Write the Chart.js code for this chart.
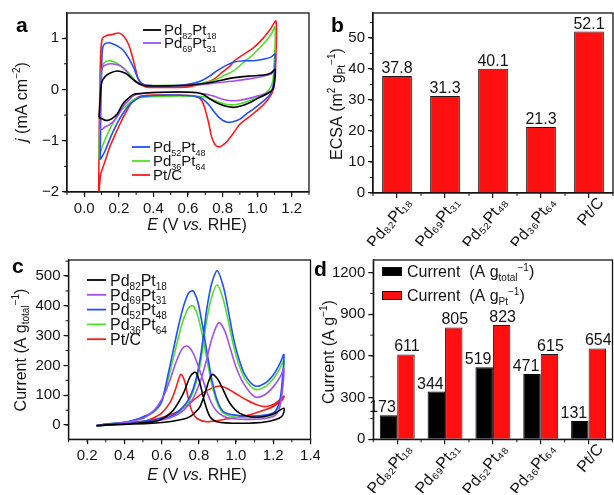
<!DOCTYPE html>
<html><head><meta charset="utf-8">
<script src="https://cdn.jsdelivr.net/npm/chart.js@4.4.1/dist/chart.umd.min.js"></script>
<style>
html,body{margin:0;padding:0;background:#fff;}
body{width:614px;height:495px;position:relative;overflow:hidden;}
canvas{position:absolute;}
</style></head>
<body>
<canvas id="ca" width="320" height="248" style="left:0;top:0"></canvas>
<canvas id="cb" width="314" height="248" style="left:300px;top:0"></canvas>
<canvas id="cc" width="320" height="247" style="left:0;top:248px"></canvas>
<canvas id="cd" width="314" height="247" style="left:300px;top:248px"></canvas>
<script>
// ================= DATA =================
const cvNames = ['Pd_{82}Pt_{18}', 'Pd_{69}Pt_{31}', 'Pd_{52}Pt_{48}', 'Pd_{36}Pt_{64}', 'Pt/C'];

// panel a: cyclic voltammograms, E (V vs RHE) and j (mA cm^-2)
const aPd82E = [0.085,0.09,0.095,0.102,0.12,0.15,0.19,0.22,0.246,0.28,0.323,0.36,0.5,0.6,0.7,0.766,0.85,0.95,1.04,1.08,1.104,1.1,1.09,1.06,1.0,0.95,0.9,0.863,0.82,0.766,0.72,0.689,0.65,0.55,0.4,0.33,0.285,0.246,0.22,0.19,0.16,0.14,0.12,0.102,0.085];
const aPd82J = [-0.55,-0.3,0.0,0.15,0.25,0.32,0.36,0.34,0.3,0.2,0.1,0.07,0.07,0.08,0.12,0.16,0.22,0.26,0.28,0.32,0.39,0.15,0.0,-0.08,-0.18,-0.27,-0.33,-0.35,-0.33,-0.26,-0.17,-0.1,-0.06,-0.05,-0.06,-0.08,-0.1,-0.2,-0.3,-0.48,-0.57,-0.6,-0.6,-0.57,-0.55];
const aPd69E = [0.088,0.092,0.097,0.104,0.12,0.15,0.18,0.208,0.24,0.266,0.3,0.333,0.4,0.5,0.6,0.7,0.766,0.85,0.945,1.04,1.08,1.104,1.1,1.09,1.06,1.0,0.96,0.9,0.85,0.8,0.747,0.7,0.66,0.55,0.4,0.33,0.285,0.25,0.227,0.2,0.17,0.14,0.12,0.104,0.092,0.088];
const aPd69J = [-0.76,-0.3,0.2,0.42,0.47,0.5,0.49,0.46,0.37,0.26,0.14,0.09,0.07,0.07,0.08,0.1,0.13,0.16,0.2,0.26,0.3,0.36,0.15,0.0,-0.07,-0.13,-0.17,-0.21,-0.22,-0.19,-0.13,-0.09,-0.07,-0.05,-0.06,-0.08,-0.12,-0.24,-0.32,-0.48,-0.62,-0.7,-0.73,-0.78,-0.77,-0.76];
const aPd52E = [0.092,0.095,0.1,0.105,0.115,0.14,0.17,0.2,0.227,0.255,0.285,0.31,0.333,0.36,0.4,0.5,0.6,0.67,0.72,0.766,0.81,0.863,0.92,0.978,1.036,1.08,1.104,1.1,1.09,1.07,1.036,0.98,0.94,0.9,0.86,0.83,0.8,0.775,0.747,0.72,0.69,0.66,0.6,0.5,0.4,0.33,0.29,0.266,0.227,0.2,0.17,0.15,0.12,0.1,0.092];
const aPd52J = [-1.37,-0.5,0.4,0.78,0.88,0.91,0.88,0.83,0.76,0.62,0.43,0.22,0.12,0.08,0.07,0.07,0.1,0.16,0.25,0.36,0.45,0.53,0.56,0.56,0.59,0.63,0.69,0.3,0.03,-0.12,-0.23,-0.38,-0.47,-0.58,-0.63,-0.64,-0.6,-0.53,-0.42,-0.3,-0.2,-0.15,-0.12,-0.11,-0.12,-0.14,-0.22,-0.28,-0.45,-0.6,-0.8,-0.95,-1.2,-1.33,-1.37];
const aPd36E = [0.085,0.09,0.095,0.102,0.115,0.14,0.17,0.208,0.24,0.266,0.295,0.323,0.36,0.5,0.6,0.7,0.766,0.82,0.863,0.92,0.96,1.0,1.055,1.085,1.104,1.1,1.09,1.07,1.03,0.998,0.94,0.9,0.863,0.82,0.766,0.72,0.68,0.6,0.5,0.4,0.32,0.285,0.25,0.208,0.18,0.15,0.12,0.1,0.09,0.085];
const aPd36J = [-1.35,-0.5,0.2,0.43,0.52,0.56,0.54,0.47,0.38,0.29,0.17,0.1,0.08,0.08,0.09,0.13,0.2,0.29,0.36,0.52,0.63,0.76,0.96,1.1,1.22,0.6,0.15,0.0,-0.12,-0.16,-0.24,-0.28,-0.3,-0.29,-0.23,-0.17,-0.14,-0.13,-0.13,-0.14,-0.16,-0.2,-0.3,-0.43,-0.58,-0.76,-0.98,-1.15,-1.3,-1.35];
const aPtCE = [0.083,0.086,0.09,0.095,0.105,0.13,0.16,0.198,0.227,0.256,0.275,0.295,0.314,0.333,0.362,0.4,0.5,0.6,0.65,0.7,0.75,0.8,0.843,0.87,0.92,0.978,1.03,1.075,1.109,1.108,1.1,1.085,1.055,1.017,0.978,0.94,0.9,0.863,0.824,0.795,0.776,0.757,0.737,0.72,0.7,0.68,0.65,0.6,0.5,0.4,0.33,0.29,0.266,0.24,0.21,0.18,0.15,0.13,0.11,0.095,0.085,0.083];
const aPtCJ = [-2.1,-1.0,0.0,0.7,1.0,1.05,1.07,1.1,1.04,0.88,0.68,0.42,0.19,0.085,0.045,0.04,0.04,0.05,0.08,0.13,0.2,0.34,0.455,0.56,0.68,0.81,0.98,1.17,1.33,0.6,0.1,-0.08,-0.23,-0.36,-0.47,-0.57,-0.68,-0.85,-1.02,-1.1,-1.12,-1.08,-0.93,-0.66,-0.4,-0.22,-0.14,-0.12,-0.11,-0.11,-0.13,-0.2,-0.3,-0.45,-0.65,-0.87,-1.1,-1.3,-1.5,-1.65,-2.0,-2.1];

// panel b: ECSA (m2 gPt-1)
const barCats = ['Pd₈₂Pt₁₈', 'Pd₆₉Pt₃₁', 'Pd₅₂Pt₄₈', 'Pd₃₆Pt₆₄', 'Pt/C'];
const ecsa = [37.8, 31.3, 40.1, 21.3, 52.1];

// panel c: ethanol oxidation CVs, E (V vs RHE) and current (A g_total^-1)
const cPd82E = [0.25,0.4,0.55,0.65,0.72,0.753,0.78,0.806,0.833,0.855,0.874,0.9,0.923,0.967,1.021,1.11,1.2,1.257,1.245,1.164,1.021,0.896,0.86,0.833,0.806,0.788,0.776,0.753,0.717,0.663,0.591,0.5,0.4,0.3,0.25];
const cPd82I = [-2,2,6,12,20,28,42,61,106,150,170,155,129,73,39,26,37,56,28,11,6,11,28,73,140,173,177,162,106,50,17,8,3,1,-2];
const cPd69E = [0.25,0.3,0.45,0.55,0.65,0.72,0.77,0.81,0.84,0.87,0.908,0.94,0.97,1.0,1.04,1.1,1.15,1.2,1.24,1.257,1.25,1.235,1.21,1.16,1.08,1.0,0.95,0.91,0.88,0.85,0.82,0.79,0.76,0.735,0.71,0.68,0.65,0.62,0.58,0.54,0.5,0.4,0.3,0.25];
const cPd69I = [-2,1,6,12,25,50,90,150,215,290,344,315,255,195,140,95,100,128,165,190,120,60,32,22,19,20,25,38,60,100,155,210,252,265,255,215,160,110,65,38,22,8,2,-2];
const cPd52E = [0.25,0.35,0.45,0.52,0.58,0.645,0.699,0.744,0.779,0.806,0.824,0.842,0.869,0.899,0.932,0.958,0.985,1.012,1.048,1.102,1.155,1.2,1.236,1.257,1.25,1.236,1.209,1.164,1.075,0.985,0.932,0.905,0.878,0.851,0.824,0.797,0.774,0.761,0.744,0.717,0.69,0.663,0.636,0.6,0.556,0.502,0.45,0.4,0.3,0.25];
const cPd52I = [-3,2,8,14,20,28,50,84,140,218,296,386,475,518,464,386,296,229,168,131,140,168,207,237,162,84,45,34,30,34,45,73,129,218,319,408,447,450,442,397,330,252,173,80,45,28,16,9,3,-3];
const cPd36E = [0.25,0.35,0.45,0.52,0.58,0.645,0.699,0.744,0.779,0.806,0.824,0.842,0.869,0.899,0.932,0.958,0.985,1.012,1.048,1.102,1.155,1.2,1.236,1.257,1.25,1.236,1.209,1.164,1.075,0.985,0.932,0.905,0.878,0.851,0.824,0.797,0.774,0.761,0.744,0.717,0.69,0.663,0.636,0.6,0.556,0.502,0.45,0.4,0.3,0.25];
const cPd36I = [-3,2,8,14,19,26,46,77,128,198,268,350,430,470,420,350,270,208,155,120,128,155,190,218,140,75,40,28,25,28,40,65,115,195,285,362,397,400,393,353,293,224,154,75,42,25,16,9,3,-3];
const cPtCE = [0.25,0.4,0.5,0.6,0.65,0.7,0.75,0.8,0.85,0.914,0.96,1.0,1.057,1.12,1.164,1.21,1.257,1.25,1.2,1.128,1.05,0.95,0.842,0.79,0.77,0.755,0.74,0.725,0.712,0.704,0.695,0.672,0.645,0.6,0.55,0.5,0.4,0.3,0.25];
const cPtCI = [-2,4,10,25,35,50,72,98,118,131,120,105,84,66,62,72,97,85,62,45,30,20,11,22,38,60,100,145,165,170,160,115,75,40,22,12,5,2,-2];

// panel d: mass activity
const massLabels = ['Current  (A g_{total}^{−1})', 'Current  (A g_{Pt}^{−1})'];
const massTotal = [173, 344, 519, 471, 131];
const massPt = [611, 805, 823, 615, 654];

// tick labels
const aXTicks = [0.0, 0.2, 0.4, 0.6, 0.8, 1.0, 1.2];
const aYTicks = [-2, -1, 0, 1];
const bYTicks = [0, 10, 20, 30, 40, 50];
const cXTicks = [0.2, 0.4, 0.6, 0.8, 1.0, 1.2, 1.4];
const cYTicks = [0, 100, 200, 300, 400, 500];
const dYTicks = [0, 300, 600, 900, 1200];

// ================= STYLE / HELPERS =================
const lineColors = ['#000000', '#a14ff0', '#1f4fff', '#50e026', '#ff1a1a'];
const RED = '#ff1010';
const FONT = "'Liberation Sans', Arial, Helvetica, sans-serif";
const INK = '#141414';
Chart.defaults.font.family = FONT;
Chart.defaults.font.size = 15;
Chart.defaults.color = INK;

function parseRich(s) {
  const segs = []; let i = 0, italic = false, buf = '';
  const push = () => { if (buf) segs.push({ t: buf, mode: 0, italic }); buf = ''; };
  while (i < s.length) {
    const c = s[i];
    if ((c === '_' || c === '^') && s[i + 1] === '{') {
      push();
      const j = s.indexOf('}', i);
      segs.push({ t: s.slice(i + 2, j), mode: c === '_' ? -1 : 1, italic });
      i = j + 1; continue;
    }
    if (c === '*') { push(); italic = !italic; i++; continue; }
    buf += c; i++;
  }
  push();
  return segs;
}
function drawRich(ctx, s, x, y, size, align, color, weight) {
  const segs = parseRich(s);
  const f = sg => `${sg.italic ? 'italic ' : ''}${weight || 'normal'} ${sg.mode ? Math.round(size * 0.62) : size}px ${FONT}`;
  let w = 0;
  segs.forEach(sg => { ctx.font = f(sg); sg.w = ctx.measureText(sg.t).width; w += sg.w; });
  let cx = align === 'center' ? x - w / 2 : align === 'right' ? x - w : x;
  ctx.save();
  ctx.fillStyle = color || INK; ctx.textAlign = 'left'; ctx.textBaseline = 'alphabetic';
  segs.forEach(sg => {
    ctx.font = f(sg);
    const dy = sg.mode === -1 ? size * 0.24 : sg.mode === 1 ? -size * 0.4 : 0;
    ctx.fillText(sg.t, cx, y + dy); cx += sg.w;
  });
  ctx.restore();
}

const decor = {
  id: 'decor',
  afterDraw(chart, args, o) {
    if (!o || !o.on) return;
    const ctx = chart.ctx, ca = chart.chartArea;
    ctx.save();
    ctx.strokeStyle = INK; ctx.lineWidth = 1.3;
    ctx.strokeRect(ca.left, ca.top, ca.right - ca.left, ca.bottom - ca.top);
    ctx.lineWidth = 1;
    const xs = chart.scales.x, ys = chart.scales.y;
    ctx.beginPath();
    if (o.minorX) {
      if (xs.type === 'category') {
        const n = chart.data.labels.length;
        for (let k = 0; k <= n; k++) { const p = xs.getPixelForValue(k - 0.5); ctx.moveTo(p, ca.bottom); ctx.lineTo(p, ca.bottom + 3); }
      } else {
        for (let v = Math.ceil(xs.min / o.minorX - 1e-6) * o.minorX; v <= xs.max + 1e-9; v += o.minorX) {
          const p = xs.getPixelForValue(v); ctx.moveTo(p, ca.bottom); ctx.lineTo(p, ca.bottom + 3);
        }
      }
    }
    if (o.minorY) {
      for (let v = Math.ceil(ys.min / o.minorY - 1e-6) * o.minorY; v <= ys.max + 1e-9; v += o.minorY) {
        const p = ys.getPixelForValue(v); ctx.moveTo(ca.left, p); ctx.lineTo(ca.left - 3, p);
      }
    }
    ctx.stroke();
    (o.texts || []).forEach(t => {
      if (t.rot) {
        ctx.save(); ctx.translate(t.x, t.y); ctx.rotate(-Math.PI / 2);
        drawRich(ctx, t.s, 0, t.size * 0.35, t.size, 'center', t.color, t.weight);
        ctx.restore();
      } else drawRich(ctx, t.s, t.x, t.y, t.size, t.align || 'left', t.color, t.weight);
    });
    (o.legends || []).forEach(g => {
      g.idx.forEach((di, r) => {
        const ds = chart.data.datasets[di];
        const y = g.y + r * g.dy;
        if (g.kind === 'box') {
          ctx.fillStyle = ds.backgroundColor; ctx.fillRect(g.x, y - g.bh / 2, g.w, g.bh);
          ctx.strokeStyle = '#111'; ctx.lineWidth = 1; ctx.strokeRect(g.x + 0.5, y - g.bh / 2 + 0.5, g.w - 1, g.bh - 1);
        } else {
          ctx.strokeStyle = ds.borderColor; ctx.lineWidth = 1.8;
          ctx.beginPath(); ctx.moveTo(g.x, y); ctx.lineTo(g.x + g.w, y); ctx.stroke();
        }
        drawRich(ctx, ds.label, g.x + g.w + g.gap, y + g.size * 0.36, g.size, 'left');
      });
    });
    ctx.restore();
  }
};
const barValues = {
  id: 'barValues',
  afterDatasetsDraw(chart, args, o) {
    if (!o || !o.on) return;
    const ctx = chart.ctx;
    ctx.save();
    ctx.font = `${o.size}px ${FONT}`; ctx.fillStyle = INK; ctx.textAlign = 'center'; ctx.textBaseline = 'alphabetic';
    chart.data.datasets.forEach((ds, i) => {
      chart.getDatasetMeta(i).data.forEach((el, k) => {
        ctx.fillText(String(ds.data[k]), el.x + (o.dx ? o.dx[i] : 0), el.y - o.gap);
      });
    });
    ctx.restore();
  }
};
Chart.register(decor, barValues);

function fixFit(size, vertical) {
  return s => {
    if (vertical) s.width = size; else s.height = size;
    s.paddingLeft = s.paddingRight = s.paddingTop = s.paddingBottom = 0;
  };
}
const gridOpts = { display: true, drawOnChartArea: false, drawTicks: true, tickLength: 5, color: INK, lineWidth: 1.2 };
const borderOpts = { display: true, color: INK, width: 1.3 };
const fmtNum = d => v => (d >= 0 ? Number(v).toFixed(d) : String(v)).replace('-', '−');

function linAxis(pos, min, max, ticks, fmt, fit) {
  return {
    type: 'linear', position: pos, min, max,
    afterBuildTicks: s => { s.ticks = ticks.map(v => ({ value: v })); },
    afterFit: fixFit(fit, pos === 'left'),
    grid: gridOpts, border: borderOpts,
    ticks: { font: { size: 15 }, color: INK, padding: 3, autoSkip: false, maxRotation: 0, minRotation: 0, callback: fmt }
  };
}
function catAxis(fit) {
  return {
    type: 'category', offset: true,
    afterFit: fixFit(fit, false),
    grid: Object.assign({}, gridOpts, { offset: false }), border: borderOpts,
    ticks: { font: { size: 16 }, color: INK, padding: -4, autoSkip: false, maxRotation: 50, minRotation: 50, labelOffset: 12 }
  };
}
function area(W, H, l, t, r, b) { return { padding: { left: 0, top: t, right: W - r, bottom: 2 }, yw: l, xh: H - b - 2 }; }
const base = { responsive: false, animation: false, events: [], devicePixelRatio: 1 };

function cvDatasets(Es, Ys) {
  return cvNames.map((n, i) => ({
    label: n, data: Es[i].map((e, k) => ({ x: e, y: Ys[i][k] })),
    showLine: true, borderColor: lineColors[i], backgroundColor: lineColors[i],
    borderWidth: 1.6, pointRadius: 0, tension: 0.3, fill: false
  }));
}

// ---------- panel a ----------
(() => {
  const L = area(320, 248, 67, 13, 309, 192);
  new Chart(document.getElementById('ca'), {
    type: 'scatter',
    data: { datasets: cvDatasets([aPd82E, aPd69E, aPd52E, aPd36E, aPtCE], [aPd82J, aPd69J, aPd52J, aPd36J, aPtCJ]) },
    options: Object.assign({}, base, {
      layout: { padding: L.padding },
      scales: {
        x: linAxis('bottom', -0.1, 1.3, aXTicks, fmtNum(1), L.xh),
        y: linAxis('left', -2, 1.49, aYTicks, fmtNum(-1), L.yw)
      },
      plugins: {
        legend: { display: false }, tooltip: { enabled: false },
        decor: {
          on: true, minorX: 0.1, minorY: 0.5,
          texts: [
            { s: 'a', x: 16, y: 32, size: 21, weight: 'bold', color: '#000' },
            { s: '*j* (mA cm^{−2})', x: 21, y: 102, size: 16, rot: true },
            { s: '*E* (V *vs.* RHE)', x: 197, y: 230, size: 16, align: 'center' }
          ],
          legends: [
            { idx: [0, 1], x: 143, y: 30, dy: 13, w: 18, gap: 3, size: 15 },
            { idx: [2, 3, 4], x: 132, y: 147, dy: 14, w: 18, gap: 3, size: 15 }
          ]
        }
      }
    })
  });
})();

// ---------- panel b ----------
(() => {
  const L = area(314, 248, 73, 13, 313, 193);
  new Chart(document.getElementById('cb'), {
    type: 'bar',
    data: { labels: barCats, datasets: [{ label: 'ECSA', data: ecsa, backgroundColor: RED, borderColor: '#1a1a1a', borderWidth: 1, categoryPercentage: 1, barPercentage: 0.62 }] },
    options: Object.assign({}, base, {
      layout: { padding: L.padding },
      scales: {
        x: catAxis(L.xh),
        y: linAxis('left', 0, 58.1, bYTicks, fmtNum(-1), L.yw)
      },
      plugins: {
        legend: { display: false }, tooltip: { enabled: false },
        barValues: { on: true, size: 16, gap: 3 },
        decor: {
          on: true, minorX: 1, minorY: 5,
          texts: [
            { s: 'b', x: 31, y: 32, size: 21, weight: 'bold', color: '#000' },
            { s: 'ECSA (m^{2} g_{Pt}^{−1})', x: 36, y: 104, size: 16, rot: true }
          ]
        }
      }
    })
  });
})();

// ---------- panel c ----------
(() => {
  const L = area(320, 247, 68.5, 12, 310.5, 191.3);
  new Chart(document.getElementById('cc'), {
    type: 'scatter',
    data: { datasets: cvDatasets([cPd82E, cPd69E, cPd52E, cPd36E, cPtCE], [cPd82I, cPd69I, cPd52I, cPd36I, cPtCI]) },
    options: Object.assign({}, base, {
      layout: { padding: L.padding },
      scales: {
        x: linAxis('bottom', 0.1, 1.4, cXTicks, fmtNum(1), L.xh),
        y: linAxis('left', -48, 554, cYTicks, fmtNum(-1), L.yw)
      },
      plugins: {
        legend: { display: false }, tooltip: { enabled: false },
        decor: {
          on: true, minorX: 0.1, minorY: 50,
          texts: [
            { s: 'c', x: 12, y: 25, size: 21, weight: 'bold', color: '#000' },
            { s: 'Current (A g_{total}^{−1})', x: 20, y: 102, size: 16, rot: true },
            { s: '*E* (V *vs.* RHE)', x: 197, y: 232, size: 16, align: 'center' }
          ],
          legends: [
            { idx: [0, 1, 2, 3, 4], x: 87, y: 32, dy: 14.8, w: 19, gap: 4, size: 16 }
          ]
        }
      }
    })
  });
})();

// ---------- panel d ----------
(() => {
  const L = area(314, 247, 73.3, 12, 312.5, 191.3);
  new Chart(document.getElementById('cd'), {
    type: 'bar',
    data: {
      labels: barCats,
      datasets: [
        { label: massLabels[0], data: massTotal, backgroundColor: '#000000', borderColor: '#000000', borderWidth: 1, categoryPercentage: 0.73, barPercentage: 1 },
        { label: massLabels[1], data: massPt, backgroundColor: RED, borderColor: '#1a1a1a', borderWidth: 1, categoryPercentage: 0.73, barPercentage: 1 }
      ]
    },
    options: Object.assign({}, base, {
      layout: { padding: L.padding },
      scales: {
        x: catAxis(L.xh),
        y: linAxis('left', 0, 1291, dYTicks, fmtNum(-1), L.yw)
      },
      plugins: {
        legend: { display: false }, tooltip: { enabled: false },
        barValues: { on: true, size: 16, gap: 3, dx: [-6, 1] },
        decor: {
          on: true, minorX: 1, minorY: 150,
          texts: [
            { s: 'd', x: 14, y: 28, size: 21, weight: 'bold', color: '#000' },
            { s: 'Current (A g^{−1})', x: 28, y: 104, size: 16, rot: true }
          ],
          legends: [
            { idx: [0, 1], kind: 'box', x: 82, y: 23.5, dy: 24, w: 20, bh: 9, gap: 5, size: 16 }
          ]
        }
      }
    })
  });
})();
</script>
</body></html>
